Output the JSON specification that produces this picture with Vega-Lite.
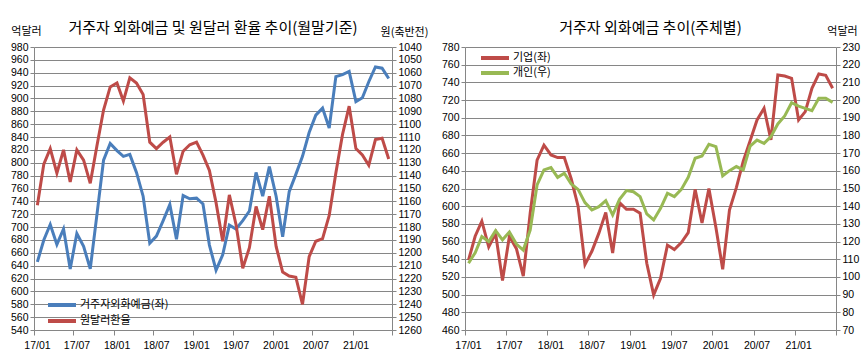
{
  "$schema": "https://vega.github.io/schema/vega-lite/v6.json",
  "background": "white",
  "padding": {"left": 10, "top": 21, "right": 5, "bottom": 5},
  "spacing": 13,
  "datasets": {
    "total": [
      {"m": "2017-01", "dep": 646, "krw": 1163},
      {"m": "2017-02", "dep": 680, "krw": 1131},
      {"m": "2017-03", "dep": 704, "krw": 1119},
      {"m": "2017-04", "dep": 673, "krw": 1138},
      {"m": "2017-05", "dep": 697, "krw": 1120},
      {"m": "2017-06", "dep": 635, "krw": 1145},
      {"m": "2017-07", "dep": 690, "krw": 1120},
      {"m": "2017-08", "dep": 670, "krw": 1128},
      {"m": "2017-09", "dep": 635, "krw": 1146},
      {"m": "2017-10", "dep": 719, "krw": 1117},
      {"m": "2017-11", "dep": 804, "krw": 1089},
      {"m": "2017-12", "dep": 830, "krw": 1071},
      {"m": "2018-01", "dep": 819, "krw": 1068},
      {"m": "2018-02", "dep": 810, "krw": 1082},
      {"m": "2018-03", "dep": 813, "krw": 1064},
      {"m": "2018-04", "dep": 785, "krw": 1068},
      {"m": "2018-05", "dep": 748, "krw": 1077},
      {"m": "2018-06", "dep": 675, "krw": 1114},
      {"m": "2018-07", "dep": 686, "krw": 1119},
      {"m": "2018-08", "dep": 710, "krw": 1114},
      {"m": "2018-09", "dep": 735, "krw": 1110},
      {"m": "2018-10", "dep": 681, "krw": 1139},
      {"m": "2018-11", "dep": 749, "krw": 1121},
      {"m": "2018-12", "dep": 744, "krw": 1116},
      {"m": "2019-01", "dep": 745, "krw": 1114},
      {"m": "2019-02", "dep": 736, "krw": 1124},
      {"m": "2019-03", "dep": 672, "krw": 1136},
      {"m": "2019-04", "dep": 633, "krw": 1161},
      {"m": "2019-05", "dep": 657, "krw": 1191},
      {"m": "2019-06", "dep": 703, "krw": 1155},
      {"m": "2019-07", "dep": 697, "krw": 1178},
      {"m": "2019-08", "dep": 710, "krw": 1212},
      {"m": "2019-09", "dep": 725, "krw": 1196},
      {"m": "2019-10", "dep": 785, "krw": 1164},
      {"m": "2019-11", "dep": 748, "krw": 1182},
      {"m": "2019-12", "dep": 794, "krw": 1156},
      {"m": "2020-01", "dep": 748, "krw": 1195},
      {"m": "2020-02", "dep": 685, "krw": 1215},
      {"m": "2020-03", "dep": 755, "krw": 1218},
      {"m": "2020-04", "dep": 782, "krw": 1219},
      {"m": "2020-05", "dep": 810, "krw": 1240},
      {"m": "2020-06", "dep": 847, "krw": 1203},
      {"m": "2020-07", "dep": 874, "krw": 1191},
      {"m": "2020-08", "dep": 885, "krw": 1189},
      {"m": "2020-09", "dep": 854, "krw": 1171},
      {"m": "2020-10", "dep": 934, "krw": 1138},
      {"m": "2020-11", "dep": 937, "krw": 1108},
      {"m": "2020-12", "dep": 942, "krw": 1086},
      {"m": "2021-01", "dep": 895, "krw": 1119},
      {"m": "2021-02", "dep": 901, "krw": 1124},
      {"m": "2021-03", "dep": 926, "krw": 1132},
      {"m": "2021-04", "dep": 949, "krw": 1112},
      {"m": "2021-05", "dep": 947, "krw": 1111},
      {"m": "2021-06", "dep": 931, "krw": 1127}
    ],
    "bysector": [
      {"m": "2017-01", "corp": 539, "ind": 107.7},
      {"m": "2017-02", "corp": 566, "ind": 113.7},
      {"m": "2017-03", "corp": 583, "ind": 122.8},
      {"m": "2017-04", "corp": 554, "ind": 120},
      {"m": "2017-05", "corp": 569, "ind": 126.2},
      {"m": "2017-06", "corp": 516, "ind": 121},
      {"m": "2017-07", "corp": 566, "ind": 125.4},
      {"m": "2017-08", "corp": 552, "ind": 118.6},
      {"m": "2017-09", "corp": 521, "ind": 115.2},
      {"m": "2017-10", "corp": 592, "ind": 126.5},
      {"m": "2017-11", "corp": 652, "ind": 152},
      {"m": "2017-12", "corp": 669, "ind": 160.5},
      {"m": "2018-01", "corp": 658, "ind": 161.8},
      {"m": "2018-02", "corp": 655, "ind": 156.3},
      {"m": "2018-03", "corp": 655, "ind": 158.6},
      {"m": "2018-04", "corp": 631, "ind": 152.6},
      {"m": "2018-05", "corp": 600, "ind": 149.5},
      {"m": "2018-06", "corp": 534, "ind": 142},
      {"m": "2018-07", "corp": 549, "ind": 137.9},
      {"m": "2018-08", "corp": 569.5, "ind": 139.7},
      {"m": "2018-09", "corp": 593, "ind": 143.1},
      {"m": "2018-10", "corp": 547, "ind": 135},
      {"m": "2018-11", "corp": 604, "ind": 143.9},
      {"m": "2018-12", "corp": 596.5, "ind": 148.8},
      {"m": "2019-01", "corp": 596.5, "ind": 148.2},
      {"m": "2019-02", "corp": 592, "ind": 145.4},
      {"m": "2019-03", "corp": 535.5, "ind": 135.6},
      {"m": "2019-04", "corp": 499.7, "ind": 132.2},
      {"m": "2019-05", "corp": 518.5, "ind": 138.8},
      {"m": "2019-06", "corp": 556, "ind": 147.3},
      {"m": "2019-07", "corp": 551, "ind": 145.4},
      {"m": "2019-08", "corp": 558.8, "ind": 149.5},
      {"m": "2019-09", "corp": 570, "ind": 156.3},
      {"m": "2019-10", "corp": 619, "ind": 167.1},
      {"m": "2019-11", "corp": 581, "ind": 168.4},
      {"m": "2019-12", "corp": 620, "ind": 175},
      {"m": "2020-01", "corp": 576, "ind": 173.7},
      {"m": "2020-02", "corp": 528.7, "ind": 157.1},
      {"m": "2020-03", "corp": 595.7, "ind": 160.1},
      {"m": "2020-04", "corp": 621, "ind": 162.4},
      {"m": "2020-05", "corp": 651, "ind": 160.5},
      {"m": "2020-06", "corp": 674, "ind": 174},
      {"m": "2020-07", "corp": 697.5, "ind": 177.4},
      {"m": "2020-08", "corp": 710.7, "ind": 175.5},
      {"m": "2020-09", "corp": 674.9, "ind": 179.3},
      {"m": "2020-10", "corp": 748.3, "ind": 186.5},
      {"m": "2020-11", "corp": 747.2, "ind": 191},
      {"m": "2020-12", "corp": 744.6, "ind": 198.5},
      {"m": "2021-01", "corp": 697.5, "ind": 196.6},
      {"m": "2021-02", "corp": 706.9, "ind": 195.3},
      {"m": "2021-03", "corp": 733.3, "ind": 194},
      {"m": "2021-04", "corp": 749.5, "ind": 201},
      {"m": "2021-05", "corp": 748, "ind": 201},
      {"m": "2021-06", "corp": 733.3, "ind": 198.7}
    ]
  },
  "hconcat": [
    {
      "width": 358,
      "height": 283,
      "data": {"name": "total"},
      "title": {"text": "거주자 외화예금 및 원달러 환율 추이(월말기준)", "fontSize": 15, "fontWeight": "normal", "color": "#000000", "frame": "group", "anchor": "middle", "offset": -11},
      "encoding": {
        "x": {"field": "m", "type": "temporal", "timeUnit": "utcyearmonth", "bandPosition": 0.5,
          "scale": {"type": "utc", "domain": [{"year": 2017, "month": 1, "date": 1, "utc": true}, {"year": 2021, "month": 7, "date": 1, "utc": true}]},
          "axis": {"title": null, "grid": false, "tickSize": 5, "labelOffset": 3, "labelPadding": 5, "labelFlush": false, "labelOverlap": false, "labelBound": false, "labelSeparation": 0,
            "values": [{"year": 2017, "month": 1, "date": 1, "utc": true}, {"year": 2017, "month": 7, "date": 1, "utc": true}, {"year": 2018, "month": 1, "date": 1, "utc": true}, {"year": 2018, "month": 7, "date": 1, "utc": true}, {"year": 2019, "month": 1, "date": 1, "utc": true}, {"year": 2019, "month": 7, "date": 1, "utc": true}, {"year": 2020, "month": 1, "date": 1, "utc": true}, {"year": 2020, "month": 7, "date": 1, "utc": true}, {"year": 2021, "month": 1, "date": 1, "utc": true}, {"year": 2021, "month": 7, "date": 1, "utc": true}],
            "labelExpr": "utcFormat(datum.value, '%y/%m') == '21/07' ? '' : utcFormat(datum.value, '%y/%m')"}}
      },
      "layer": [
        {
          "mark": {"type": "line", "strokeWidth": 3},
          "encoding": {
            "y": {"field": "dep", "type": "quantitative",
              "scale": {"domain": [540, 980], "nice": false, "zero": false},
              "axis": {"title": "억달러", "titleAngle": 0, "titleAlign": "center", "titleBaseline": "middle", "titleX": -8, "titleY": -16, "grid": true, "tickSize": 4, "format": "d",
                "values": [540, 560, 580, 600, 620, 640, 660, 680, 700, 720, 740, 760, 780, 800, 820, 840, 860, 880, 900, 920, 940, 960, 980]}},
            "color": {"datum": "거주자외화예금(좌)", "type": "nominal",
              "scale": {"domain": ["거주자외화예금(좌)", "원달러환율"], "range": ["#4A7EBB", "#BE4B48"]},
              "legend": {"orient": "none", "legendX": 12, "legendY": 251, "title": null, "symbolType": "stroke", "symbolSize": 784, "symbolStrokeWidth": 4, "labelFontSize": 11, "clipHeight": 14, "rowPadding": 2, "padding": 0, "labelOffset": 2, "labelColor": "#000000"}}
          }
        },
        {
          "mark": {"type": "line", "strokeWidth": 3},
          "encoding": {
            "y": {"field": "krw", "type": "quantitative",
              "scale": {"domain": [1040, 1260], "nice": false, "zero": false, "reverse": true},
              "axis": {"orient": "right", "title": "원(축반전)", "titleAngle": 0, "titleAlign": "center", "titleBaseline": "middle", "titleX": 12, "titleY": -15, "grid": false, "tickSize": 4, "format": "d",
                "values": [1040, 1050, 1060, 1070, 1080, 1090, 1100, 1110, 1120, 1130, 1140, 1150, 1160, 1170, 1180, 1190, 1200, 1210, 1220, 1230, 1240, 1250, 1260]}},
            "color": {"datum": "원달러환율", "type": "nominal"}
          }
        }
      ],
      "resolve": {"scale": {"y": "independent"}}
    },
    {
      "width": 371,
      "height": 283,
      "data": {"name": "bysector"},
      "title": {"text": "거주자 외화예금 추이(주체별)", "fontSize": 15, "fontWeight": "normal", "color": "#000000", "frame": "group", "anchor": "middle", "offset": -11},
      "encoding": {
        "x": {"field": "m", "type": "temporal", "timeUnit": "utcyearmonth", "bandPosition": 0.5,
          "scale": {"type": "utc", "domain": [{"year": 2017, "month": 1, "date": 1, "utc": true}, {"year": 2021, "month": 7, "date": 1, "utc": true}]},
          "axis": {"title": null, "grid": false, "tickSize": 5, "labelOffset": 3, "labelPadding": 5, "labelFlush": false, "labelOverlap": false, "labelBound": false, "labelSeparation": 0,
            "values": [{"year": 2017, "month": 1, "date": 1, "utc": true}, {"year": 2017, "month": 7, "date": 1, "utc": true}, {"year": 2018, "month": 1, "date": 1, "utc": true}, {"year": 2018, "month": 7, "date": 1, "utc": true}, {"year": 2019, "month": 1, "date": 1, "utc": true}, {"year": 2019, "month": 7, "date": 1, "utc": true}, {"year": 2020, "month": 1, "date": 1, "utc": true}, {"year": 2020, "month": 7, "date": 1, "utc": true}, {"year": 2021, "month": 1, "date": 1, "utc": true}, {"year": 2021, "month": 7, "date": 1, "utc": true}],
            "labelExpr": "utcFormat(datum.value, '%y/%m') == '21/07' ? '' : utcFormat(datum.value, '%y/%m')"}}
      },
      "layer": [
        {
          "mark": {"type": "line", "strokeWidth": 3},
          "encoding": {
            "y": {"field": "corp", "type": "quantitative",
              "scale": {"domain": [460, 780], "nice": false, "zero": false},
              "axis": {"title": null, "grid": true, "tickSize": 4, "format": "d",
                "values": [460, 480, 500, 520, 540, 560, 580, 600, 620, 640, 660, 680, 700, 720, 740, 760, 780]}},
            "color": {"datum": "기업(좌)", "type": "nominal",
              "scale": {"domain": ["기업(좌)", "개인(우)"], "range": ["#BE4B48", "#98B954"]},
              "legend": {"orient": "none", "legendX": 14, "legendY": 4, "title": null, "symbolType": "stroke", "symbolSize": 784, "symbolStrokeWidth": 4, "labelFontSize": 11, "clipHeight": 14, "rowPadding": 1, "padding": 0, "labelOffset": 2, "labelColor": "#000000"}}
          }
        },
        {
          "mark": {"type": "line", "strokeWidth": 3},
          "encoding": {
            "y": {"field": "ind", "type": "quantitative",
              "scale": {"domain": [70, 230], "nice": false, "zero": false},
              "axis": {"orient": "right", "title": "억달러", "titleAngle": 0, "titleAlign": "center", "titleBaseline": "middle", "titleX": 6, "titleY": -16, "grid": false, "tickSize": 4, "format": "d",
                "values": [70, 80, 90, 100, 110, 120, 130, 140, 150, 160, 170, 180, 190, 200, 210, 220, 230]}},
            "color": {"datum": "개인(우)", "type": "nominal"}
          }
        }
      ],
      "resolve": {"scale": {"y": "independent"}}
    }
  ],
  "resolve": {"scale": {"color": "independent"}, "legend": {"color": "independent"}},
  "config": {
    "font": "Noto Sans CJK KR",
    "view": {"stroke": null},
    "axis": {"domainColor": "#868686", "tickColor": "#868686", "gridColor": "#868686", "gridOpacity": 1, "labelColor": "#000000", "labelFont": "Liberation Sans", "labelFontSize": 10.5, "titleFontSize": 11, "titleFontWeight": "normal", "titleColor": "#000000"},
    "axisX": {"labelOverlap": false},
    "legend": {"labelFontSize": 11}
  }
}
